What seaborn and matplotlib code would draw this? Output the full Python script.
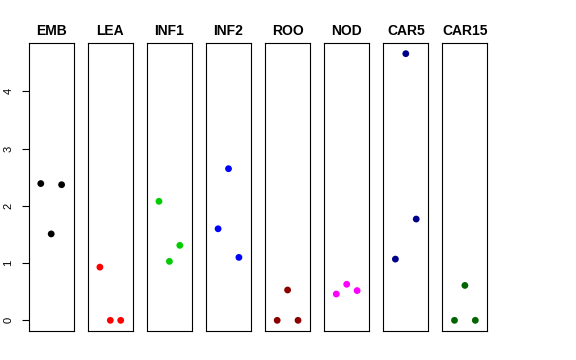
import matplotlib
matplotlib.use("Agg")
import matplotlib.pyplot as plt
import seaborn as sns
import pandas as pd

sns.set_style("white")
plt.rcParams['font.family'] = ['Liberation Sans', 'DejaVu Sans']
plt.rcParams['text.color'] = 'black'
plt.rcParams['axes.labelcolor'] = 'black'
plt.rcParams['ytick.color'] = 'black'

tissues = ["EMB", "LEA", "INF1", "INF2", "ROO", "NOD", "CAR5", "CAR15"]
replicate = [1, 2, 3]
emb = [2.39, 1.51, 2.37]
lea = [0.93, 0.0, 0.0]
inf1 = [2.08, 1.03, 1.31]
inf2 = [1.60, 2.65, 1.10]
roo = [0.0, 0.53, 0.0]
nod = [0.46, 0.63, 0.52]
car5 = [1.07, 4.66, 1.77]
car15 = [0.0, 0.61, 0.0]
colors = ["black", "red", "#00CD00", "blue", "#8B0000", "magenta", "#00008B", "#006400"]
yticks = [0, 1, 2, 3, 4]

values = [emb, lea, inf1, inf2, roo, nod, car5, car15]

fig = plt.figure(figsize=(5.76, 3.6), dpi=100)
W, H = 576, 360
left0, step, pw = 28.7, 59.1, 45.0
top, bottom = 43.0, 331.0
ymax = max(max(v) for v in values)
pad = ymax * 0.04

for i, (name, vals, col) in enumerate(zip(tissues, values, colors)):
    x0 = left0 + i * step
    ax = fig.add_axes([x0 / W, 1 - bottom / H, pw / W, (bottom - top) / H])
    df = pd.DataFrame({"rep": replicate, "val": vals})
    sns.scatterplot(data=df, x="rep", y="val", ax=ax, color=col, s=24,
                    edgecolor="none", linewidth=0)
    ax.set_xlim(-0.16, 4.16)
    ax.set_ylim(-pad, ymax + pad)
    ax.set_xlabel("")
    ax.set_ylabel("")
    ax.set_xticks([])
    ax.set_title(name, fontsize=10, fontweight="bold", pad=6, color="black")
    for s in ax.spines.values():
        s.set_visible(True)
        s.set_color("black")
        s.set_linewidth(0.8)
    if i == 0:
        ax.set_yticks(yticks)
        ax.set_yticklabels([str(t) for t in yticks], rotation=90, va="center",
                           fontsize=8, color="black")
        ax.tick_params(axis="y", left=True, length=5, width=0.8, pad=6, color="black")
    else:
        ax.set_yticks([])

fig.savefig("out.png", dpi=100)
